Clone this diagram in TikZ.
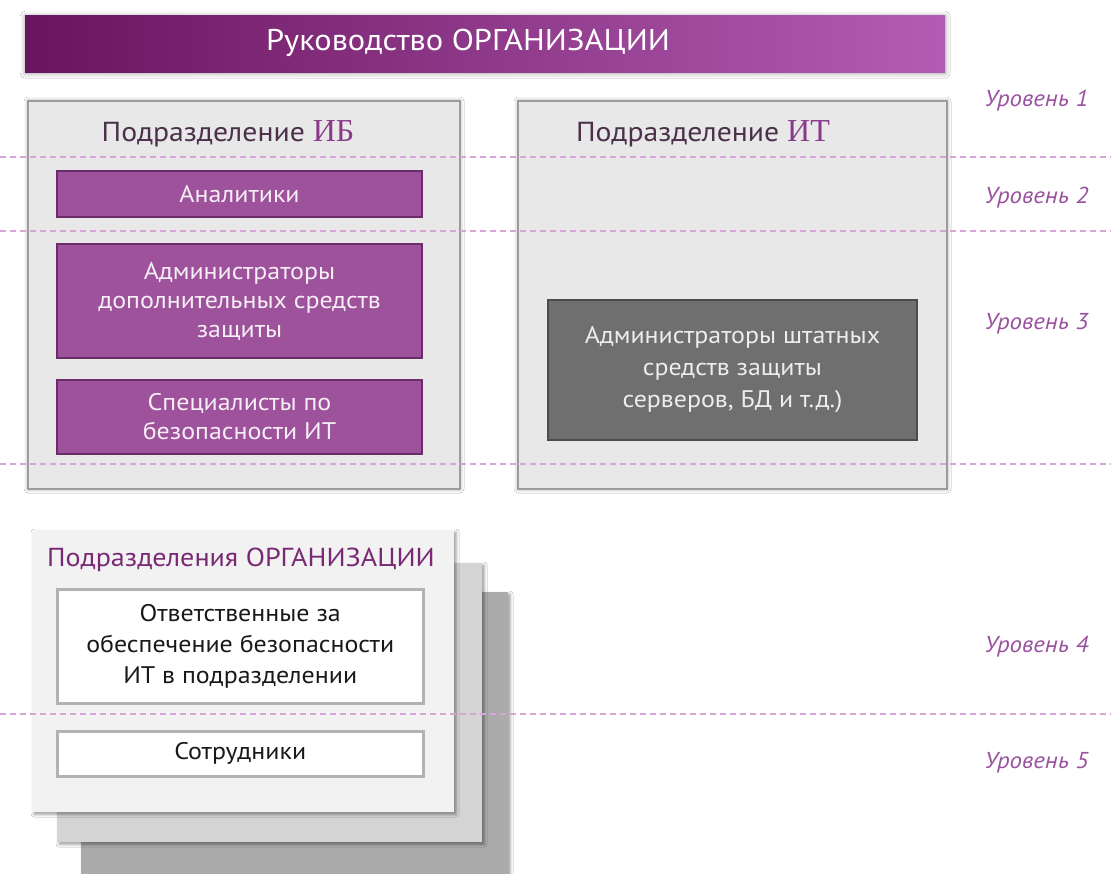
\documentclass[tikz,border=0pt]{standalone}
\usepackage{fontspec}
\setmainfont{PT Sans}[FakeStretch=1.08]
\newfontfamily\serifb{Liberation Serif}
\usetikzlibrary{positioning,shadows.blur}

\definecolor{barleft}{HTML}{6A145F}
\definecolor{barright}{HTML}{B25DB3}
\definecolor{unitfill}{HTML}{E8E8E8}
\definecolor{unitedge}{HTML}{9C9C9C}
\definecolor{unittext}{HTML}{4B3049}
\definecolor{unitmark}{HTML}{8A3A8A}
\definecolor{roleviolet}{HTML}{9E529C}
\definecolor{roleedge}{HTML}{6B2C68}
\definecolor{rolegray}{HTML}{6F6F6F}
\definecolor{levelpink}{HTML}{D7A6D6}
\definecolor{levelviolet}{HTML}{9A52A0}
\definecolor{orgtitle}{HTML}{7A2A75}

\tikzset{
  headbar/.style={anchor=north west, inner sep=0pt, left color=barleft, right color=barright,
    blur shadow={shadow xshift=0pt, shadow yshift=-1pt, shadow blur radius=5pt}},
  headtext/.style={text=white, font=\fontsize{30}{34}\selectfont},
  unitbox/.style={anchor=north west, inner sep=0pt, fill=unitfill, draw=unitedge, line width=2pt,
    blur shadow={shadow xshift=0pt, shadow yshift=0pt, shadow blur radius=4pt}},
  unittitle/.style={text=unittext, font=\fontsize{27.5}{30}\selectfont},
  rolebox/.style={anchor=north west, inner sep=0pt, fill=roleviolet, draw=roleedge, line width=2pt,
    text=white!90!roleviolet, align=center, font=\fontsize{24}{29}\selectfont},
  graybox/.style={rolebox, fill=rolegray, draw=black!70, text=white!93!black},
  sheet/.style={anchor=north west, inner sep=0pt, draw=none,
    blur shadow={shadow xshift=2pt, shadow yshift=-2pt, shadow blur radius=3pt}},
  whitebox/.style={anchor=north west, inner sep=0pt, fill=white, draw=black!30, line width=2.5pt,
    text=black!90, align=center, font=\fontsize{24}{31}\selectfont},
  levelline/.style={levelpink, dashed, dash pattern=on 6pt off 4pt, line width=1.3pt},
  levellabel/.style={anchor=east, text=levelviolet, font=\fontsize{23}{26}\selectfont\itshape}
}

\begin{document}
\begin{tikzpicture}[x=1pt, y=-1pt]
  \useasboundingbox[fill=white] (0,0) rectangle (1111,873);

  \node[headbar, minimum width=920pt, minimum height=57pt] (head) at (25,15) {};
  \node[headtext] (headtxt) at (468,43) {Руководство ОРГАНИЗАЦИИ};

  \node[unitbox, minimum width=432pt, minimum height=388pt] (ib) at (27,100) {};
  \node[unitbox, minimum width=429pt, minimum height=388pt] (it) at (517,100) {};
  \node[unittitle] (ibtitle) at (228,134) {Подразделение {\serifb\color{unitmark}\fontsize{32}{32}\selectfont ИБ}};
  \node[unittitle] (ittitle) at (703,134) {Подразделение {\serifb\color{unitmark}\fontsize{32}{32}\selectfont ИТ}};

  \node[rolebox, minimum width=365pt, minimum height=46pt] (analysts) at (56,170) {Аналитики};
  \node[rolebox, minimum width=365pt, minimum height=114pt] (admins) at (56,243)
    {Администраторы\\дополнительных средств\\защиты};
  \node[rolebox, minimum width=365pt, minimum height=74pt] (experts) at (56,379)
    {Специалисты по\\безопасности ИТ};
  \node[graybox, minimum width=369pt, minimum height=140pt, font=\fontsize{24}{32}\selectfont] (itadmins) at (547,299)
    {Администраторы штатных\\средств защиты\\серверов, БД и т.д.)};

  \node[sheet, fill=black!33, minimum width=427pt, minimum height=290pt] (sheet3) at (81,592) {};
  \node[sheet, fill=black!17, minimum width=425pt, minimum height=279pt] (sheet2) at (57,563) {};
  \node[sheet, fill=black!5, minimum width=422pt, minimum height=282pt] (sheet1) at (32,530) {};
  \node[text=orgtitle, font=\fontsize{26}{30}\selectfont] (orgtitle) at (241,560) {Подразделения ОРГАНИЗАЦИИ};
  \node[whitebox, minimum width=366pt, minimum height=114pt] (resp) at (56,588)
    {Ответственные за\\обеспечение безопасности\\ИТ в подразделении};
  \node[whitebox, minimum width=366pt, minimum height=45pt] (staff) at (56,730) {Сотрудники};

  \foreach \y in {157,231,464,714}
    \draw[levelline] (0,\y) -- (1111,\y);

  \foreach \y/\n in {101/1,198/2,324/3,647/4,763/5}
    \node[levellabel] (level\n) at (1092,\y) {Уровень \n};
\end{tikzpicture}
\end{document}
